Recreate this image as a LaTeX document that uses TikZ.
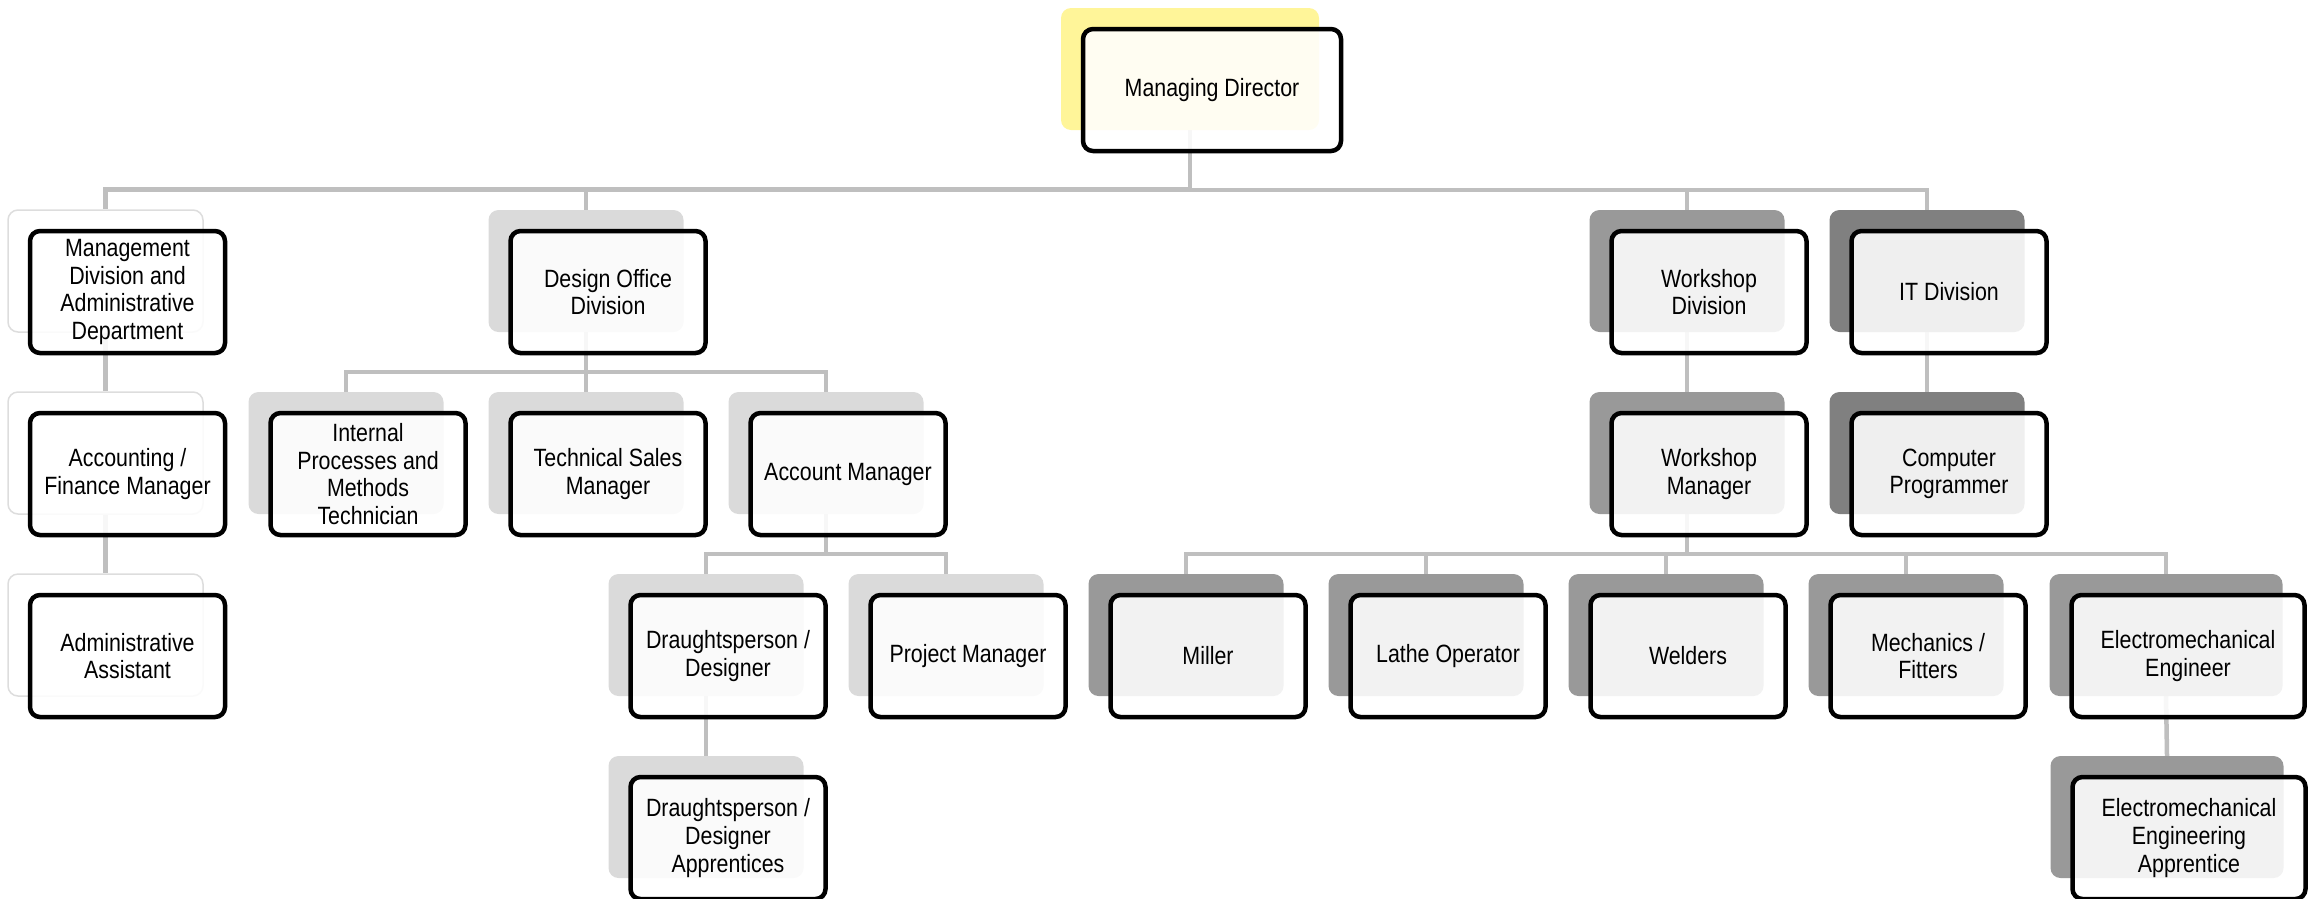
\documentclass[tikz,border=0pt]{standalone}
\usepackage{fontspec}
\setmainfont{Liberation Sans}[FakeStretch=0.855]
\pgfdeclarelayer{bg}
\pgfsetlayers{bg,main}
\definecolor{shyellow}{HTML}{FFF599}
\definecolor{shline}{HTML}{DDDDDD}
\definecolor{shlight}{HTML}{DADADA}
\definecolor{shmid}{HTML}{999999}
\definecolor{shdark}{HTML}{808080}
\definecolor{conncol}{HTML}{BFBFBF}
\newcommand\orgnode[6]{%
  \node[#2, minimum width=#5pt] (#1) at (#3,#4) {};
  \node[bx, minimum width=#5pt] (#1B) at (#3+22,#4+21) {#6};
}
\begin{document}
\begin{tikzpicture}[x=1pt,y=-1pt,
  sh/.style={rectangle, rounded corners=10pt, minimum height=122pt, inner sep=0pt},
  shY/.style={sh, fill=shyellow},
  shW/.style={sh, fill=white, draw=shline, line width=1.5pt},
  shL/.style={sh, fill=shlight},
  shM/.style={sh, fill=shmid},
  shD/.style={sh, fill=shdark},
  bx/.style={rectangle, rounded corners=10pt, minimum height=122pt, inner sep=0pt,
    draw=black, line width=4.5pt, fill=white, fill opacity=0.88, text opacity=1,
    align=center, text=black, font=\fontsize{25pt}{27.7pt}\selectfont},
  conn/.style={draw=conncol, line width=4.5pt}
]
\useasboundingbox (0,0) rectangle (2309,898);

\orgnode{md}{shY}{1190}{69}{258}{Managing Director}

\orgnode{mgmt}{shW}{105.5}{271}{195}{Management\\Division and\\Administrative\\Department}
\orgnode{acct}{shW}{105.5}{453}{195}{Accounting /\\Finance Manager}
\orgnode{admin}{shW}{105.5}{635}{195}{Administrative\\Assistant}

\orgnode{design}{shL}{586}{271}{195}{Design Office\\Division}
\orgnode{intproc}{shL}{346}{453}{195}{Internal\\Processes and\\Methods\\Technician}
\orgnode{techsales}{shL}{586}{453}{195}{Technical Sales\\Manager}
\orgnode{accmgr}{shL}{826}{453}{195}{Account Manager}
\orgnode{draft}{shL}{706}{635}{195}{Draughtsperson /\\Designer}
\orgnode{projmgr}{shL}{946}{635}{195}{Project Manager}
\orgnode{draftapp}{shL}{706}{817}{195}{Draughtsperson /\\Designer\\Apprentices}

\orgnode{wdiv}{shM}{1687}{271}{195}{Workshop\\Division}
\orgnode{wmgr}{shM}{1687}{453}{195}{Workshop\\Manager}
\orgnode{itdiv}{shD}{1927}{271}{195}{IT Division}
\orgnode{comp}{shD}{1927}{453}{195}{Computer\\Programmer}

\orgnode{miller}{shM}{1186}{635}{195}{Miller}
\orgnode{lathe}{shM}{1426}{635}{195}{Lathe Operator}
\orgnode{welders}{shM}{1666}{635}{195}{Welders}
\orgnode{mech}{shM}{1906}{635}{195}{Mechanics /\\Fitters}
\orgnode{electro}{shM}{2166}{635}{233}{Electromechanical\\Engineer}
\orgnode{electroapp}{shM}{2167}{817}{233}{Electromechanical\\Engineering\\Apprentice}

\begin{pgfonlayer}{bg}
  \foreach \c in {mgmt,design,wdiv,itdiv}
    \draw[conn] (md.south) |- ([yshift=20pt]\c.north) -- (\c.north);
  \draw[conn] (mgmt.south) -- (acct.north);
  \draw[conn] (acct.south) -- (admin.north);
  \foreach \c in {intproc,techsales,accmgr}
    \draw[conn] (design.south) |- ([yshift=20pt]\c.north) -- (\c.north);
  \foreach \c in {draft,projmgr}
    \draw[conn] (accmgr.south) |- ([yshift=20pt]\c.north) -- (\c.north);
  \draw[conn] (draft.south) -- (draftapp.north);
  \draw[conn] (wdiv.south) -- (wmgr.north);
  \draw[conn] (itdiv.south) -- (comp.north);
  \foreach \c in {miller,lathe,welders,mech,electro}
    \draw[conn] (wmgr.south) |- ([yshift=20pt]\c.north) -- (\c.north);
  \draw[conn] (electro.south) -- (electroapp.north);
\end{pgfonlayer}
\end{tikzpicture}
\end{document}
